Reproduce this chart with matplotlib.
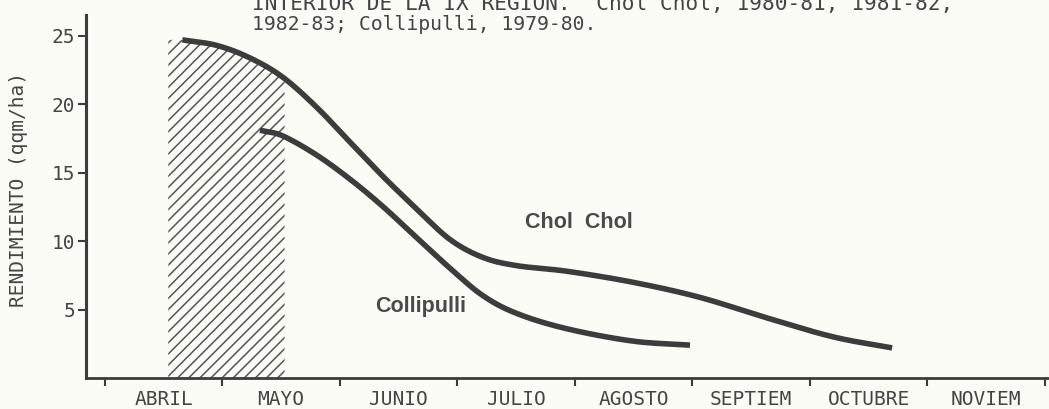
import numpy as np
import matplotlib
matplotlib.use("Agg")
import matplotlib.pyplot as plt

# month axis: tick k marks the start of month k, labels sit mid-month
months = ["ABRIL", "MAYO", "JUNIO", "JULIO", "AGOSTO", "SEPTIEM", "OCTUBRE", "NOVIEM"]

# values (x in months from 1 April, y in qqm/ha)
chol_x = [0.66, 0.95, 1.23, 1.51, 1.80, 2.09, 2.37, 2.66, 2.94, 3.22, 3.51, 3.93, 4.49, 5.06, 5.63, 6.20, 6.70]
chol_y = [24.7, 24.3, 23.4, 22.0, 19.8, 17.2, 14.7, 12.3, 10.1, 8.8, 8.2, 7.8, 7.0, 5.9, 4.4, 3.0, 2.2]

colli_x = [1.32, 1.51, 1.80, 2.09, 2.37, 2.66, 2.94, 3.22, 3.51, 3.93, 4.49, 4.98]
colli_y = [18.1, 17.7, 16.3, 14.5, 12.5, 10.2, 8.0, 6.0, 4.7, 3.6, 2.7, 2.4]

# hatched sowing window (mid April - mid May)
window = [0.54, 1.53]

yticks = [5, 10, 15, 20, 25]

INK = "#3c3c3c"
BG = "#fcfcf6"
MONO = "DejaVu Sans Mono"


def smooth(xs, ys, n=30):
    # catmull-rom through the read points, just for drawing
    p = np.column_stack([xs, ys])
    p = np.vstack([2 * p[0] - p[1], p, 2 * p[-1] - p[-2]])
    out = []
    t = np.linspace(0, 1, n, endpoint=False)[:, None]
    for i in range(1, len(p) - 2):
        p0, p1, p2, p3 = p[i - 1], p[i], p[i + 1], p[i + 2]
        seg = 0.5 * ((2 * p1) + (-p0 + p2) * t + (2 * p0 - 5 * p1 + 4 * p2 - p3) * t ** 2
                     + (-p0 + 3 * p1 - 3 * p2 + p3) * t ** 3)
        out.append(seg)
    out.append(p[-2][None, :])
    out = np.vstack(out)
    return out[:, 0], out[:, 1]


plt.rcParams['hatch.linewidth'] = 1.1
plt.rcParams['hatch.color'] = "#555555"

fig = plt.figure(figsize=(10.49, 4.09), dpi=100, facecolor=BG)
ax = fig.add_axes([0.082, 0.0758, 0.918, 0.887])
ax.set_facecolor(BG)

cx, cy = smooth(chol_x, chol_y)
kx, ky = smooth(colli_x, colli_y)

# hatch under the Chol Chol curve
hx = np.linspace(window[0], window[1], 100)
hy = np.interp(hx, cx, cy)
ax.fill_between(hx, 0, hy, facecolor="none", edgecolor="#555555", hatch="///", linewidth=0)

ax.plot(cx, cy, color=INK, lw=4.0, solid_capstyle="butt")
ax.plot(kx, ky, color=INK, lw=4.0, solid_capstyle="butt")

ax.text(4.03, 11.35, "Chol  Chol", family="Liberation Sans", fontweight="bold",
        fontsize=15.5, color="#4a4a4a", ha="center", va="center")
ax.text(2.69, 5.2, "Collipulli", family="Liberation Sans", fontweight="bold",
        fontsize=15.5, color="#4a4a4a", ha="center", va="center")

ax.set_xlim(-0.16, 8.035)
ax.set_ylim(0, 26.5)

for s in ["top", "right"]:
    ax.spines[s].set_visible(False)
ax.spines["left"].set_linewidth(2.2)
ax.spines["bottom"].set_linewidth(2.0)
ax.spines["left"].set_color(INK)
ax.spines["bottom"].set_color(INK)

ax.set_yticks(yticks)
ax.set_yticklabels([str(v) for v in yticks], family=MONO, fontsize=14, color="#444444")
ax.tick_params(axis="y", direction="out", length=6, width=1.5, color=INK, pad=2)

ax.set_xticks(range(len(months) + 1))
ax.set_xticklabels([])
ax.set_xticks(np.arange(len(months)) + 0.5, minor=True)
ax.set_xticklabels(months, minor=True, family=MONO, fontsize=14, color="#444444")
ax.tick_params(axis="x", which="major", direction="out", length=6, width=1.5, color=INK)
ax.tick_params(axis="x", which="minor", length=0, pad=9)

ax.set_ylabel("RENDIMIENTO (qqm/ha)", family=MONO, fontsize=14, color="#444444")
ax.yaxis.set_label_coords(-0.06, 0.52)

# caption of the scanned page, first line is cut by the top edge as in the scan
fig.text(0.240, 1 - 10 / 409, "INTERIOR DE LA IX REGION.  Chol Chol, 1980-81, 1981-82,",
         family=MONO, fontsize=15.2, color="#444444", va="baseline")
fig.text(0.240, 1 - 30 / 409, "1982-83; Collipulli, 1979-80.",
         family=MONO, fontsize=14.2, color="#444444", va="baseline")

fig.savefig("out.png", dpi=100, facecolor=BG)
